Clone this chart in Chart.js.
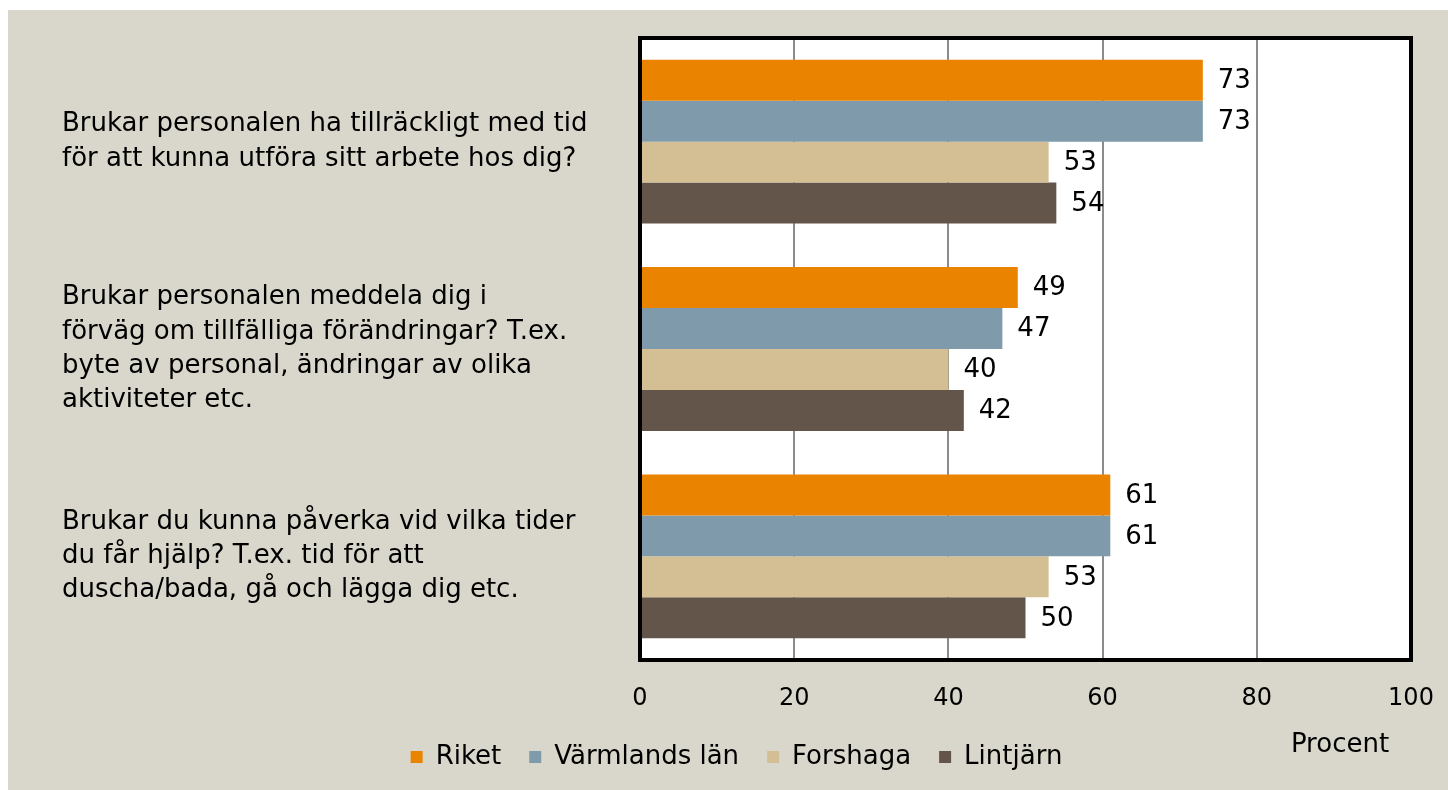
<!DOCTYPE html>
<html>
<head>
<meta charset="utf-8">
<script src="https://cdn.jsdelivr.net/npm/chart.js@4"></script>
<style>
  body { margin: 10px 0 0 8px; background: #fff; overflow: hidden; }
  #wrap { width: 1440px; height: 780px; background: #d9d7cb; }
</style>
</head>
<body>
<div id="wrap"><canvas id="chart" width="1440" height="780"></canvas></div>
<script>
var questions = [
  ['Brukar personalen ha tillräckligt med tid', 'för att kunna utföra sitt arbete hos dig?'],
  ['Brukar personalen meddela dig i', 'förväg om tillfälliga förändringar? T.ex.', 'byte av personal, ändringar av olika', 'aktiviteter etc.'],
  ['Brukar du kunna påverka vid vilka tider', 'du får hjälp? T.ex. tid för att', 'duscha/bada, gå och lägga dig etc.']
];
var riket = [73, 49, 61];
var varmland = [73, 47, 61];
var forshaga = [53, 40, 53];
var lintjarn = [54, 42, 50];
var xTicks = [0, 20, 40, 60, 80, 100];

var FONT = 'DejaVu Sans';
Chart.defaults.font.family = FONT;
Chart.defaults.color = '#000';

// white plot area + black frame + value labels + "Procent"
var plotFrame = {
  id: 'plotFrame',
  beforeDraw: function(chart) {
    var a = chart.chartArea, ctx = chart.ctx;
    ctx.save();
    ctx.fillStyle = '#fff';
    ctx.fillRect(a.left, a.top, a.right - a.left, a.bottom - a.top);
    ctx.restore();
  },
  afterDatasetsDraw: function(chart) {
    var ctx = chart.ctx;
    ctx.save();
    ctx.font = '26px ' + FONT;
    ctx.fillStyle = '#000';
    ctx.textBaseline = 'middle';
    ctx.textAlign = 'left';
    chart.data.datasets.forEach(function(ds, i) {
      chart.getDatasetMeta(i).data.forEach(function(bar, j) {
        ctx.fillText(ds.data[j], bar.x + 15, bar.y + 1);
      });
    });
    ctx.restore();
  },
  afterDraw: function(chart) {
    var a = chart.chartArea, ctx = chart.ctx;
    ctx.save();
    ctx.strokeStyle = '#000';
    ctx.lineWidth = 4;
    ctx.strokeRect(a.left, a.top, a.right - a.left, a.bottom - a.top);
    ctx.font = '26px ' + FONT;
    ctx.fillStyle = '#000';
    ctx.textAlign = 'center';
    ctx.textBaseline = 'middle';
    ctx.fillText('Procent', a.right - 71, a.bottom + 85);
    ctx.restore();
  }
};

new Chart(document.getElementById('chart'), {
  type: 'bar',
  data: {
    labels: questions,
    datasets: [
      { label: 'Riket', data: riket, backgroundColor: '#ea8400' },
      { label: 'Värmlands län', data: varmland, backgroundColor: '#7f9bab' },
      { label: 'Forshaga', data: forshaga, backgroundColor: '#d4bf95' },
      { label: 'Lintjärn', data: lintjarn, backgroundColor: '#64554a' }
    ]
  },
  options: {
    indexAxis: 'y',
    responsive: false,
    animation: false,
    categoryPercentage: 0.79,
    barPercentage: 1.0,
    layout: { padding: { left: 54, top: 28, right: 37, bottom: 10 } },
    scales: {
      x: {
        min: 0, max: 100,
        afterBuildTicks: function(scale) { scale.ticks = xTicks.map(function(v) { return { value: v }; }); },
        grid: { color: '#8c8c8c', lineWidth: 2, drawTicks: false },
        border: { display: false },
        ticks: { font: { size: 24 }, padding: 24 },
        afterFit: function(scale) { scale.height = 56; scale.paddingLeft = 0; scale.paddingRight = 0; }
      },
      y: {
        grid: { display: false },
        border: { display: false },
        ticks: { font: { size: 26, lineHeight: 1.32 }, crossAlign: 'far' },
        afterFit: function(scale) { scale.width = 578; scale.paddingTop = 0; scale.paddingBottom = 0; }
      }
    },
    plugins: {
      tooltip: { enabled: false },
      legend: {
        position: 'bottom',
        labels: { boxWidth: 12, boxHeight: 12, padding: 28, font: { size: 26 } }
      }
    }
  },
  plugins: [plotFrame]
});
</script>
</body>
</html>
